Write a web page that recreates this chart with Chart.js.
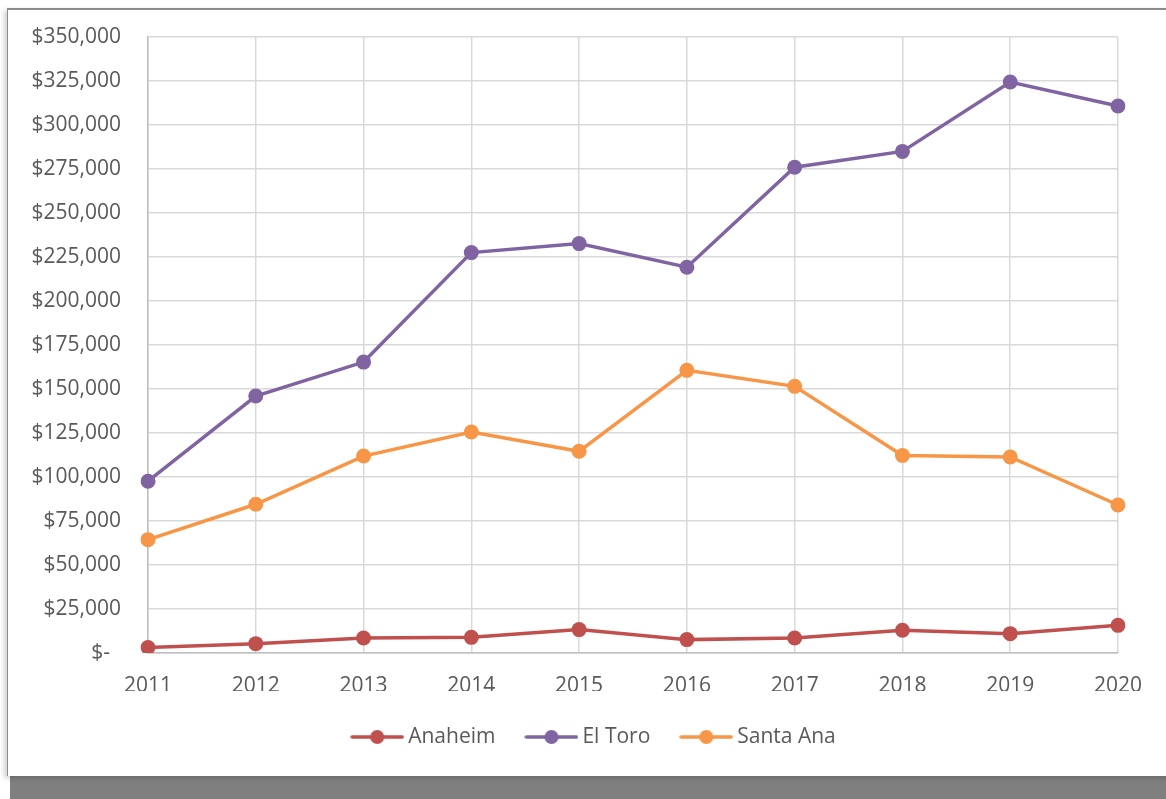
<!DOCTYPE html>
<html>
<head>
<meta charset="utf-8">
<script src="https://cdn.jsdelivr.net/npm/chart.js@4.4.1/dist/chart.umd.min.js"></script>
<style>
  html, body { margin: 0; padding: 0; background: #ffffff; width: 1166px; height: 799px; overflow: hidden; }
  #shadow { position: absolute; left: 10px; top: 14px; width: 1170px; height: 800px; background: #7f7f7f; }
  #box { position: absolute; left: 7px; top: 8px; width: 1170px; height: 766px; background: #ffffff;
         border-top: 2px solid #8c8c8c; border-left: 1.5px solid #8c8c8c; box-shadow: -3px 2px 5px rgba(0,0,0,0.18); }
  #chart { position: absolute; left: 0; top: 0; }
</style>
</head>
<body>
<div id="shadow"></div>
<div id="box"></div>
<canvas id="chart" width="1166" height="799"></canvas>
<script>
const years = ['2011', '2012', '2013', '2014', '2015', '2016', '2017', '2018', '2019', '2020'];
const anaheim = [3100, 5300, 8500, 8900, 13300, 7600, 8500, 12900, 11000, 15700];
const elToro = [97600, 146000, 165300, 227500, 232600, 219200, 276000, 285000, 324400, 310800];
const santaAna = [64400, 84500, 111900, 125600, 114600, 160600, 151500, 112200, 111400, 84100];
const seriesNames = ['Anaheim', 'El Toro', 'Santa Ana'];
const seriesColors = ['#C0504D', '#8064A2', '#F79646'];

function legendIcon(color) {
  const c = document.createElement('canvas');
  c.width = 54; c.height = 16;
  const g = c.getContext('2d');
  g.strokeStyle = color; g.lineWidth = 3.5; g.lineCap = 'round';
  g.beginPath(); g.moveTo(2, 8); g.lineTo(52, 8); g.stroke();
  g.fillStyle = color;
  g.beginPath(); g.arc(27, 8, 7, 0, Math.PI * 2); g.fill();
  return c;
}
const icons = seriesColors.map(legendIcon);

const FONT = { family: '"Open Sans", sans-serif', size: 21 };
const seriesData = [anaheim, elToro, santaAna];

const legendShift = {
  id: 'legendShift',
  afterLayout(chart) {
    if (chart.legend) { chart.legend.left = 74.5; }
  }
};

new Chart(document.getElementById('chart'), {
  type: 'line',
  data: {
    labels: years,
    datasets: seriesNames.map((n, i) => ({
      label: n,
      data: seriesData[i],
      borderColor: seriesColors[i],
      backgroundColor: seriesColors[i],
      borderWidth: 3.5,
      pointRadius: 7.5,
      pointHoverRadius: 7.5,
      pointBorderWidth: 0,
      tension: 0,
      fill: false
    }))
  },
  plugins: [legendShift],
  options: {
    responsive: false,
    animation: false,
    devicePixelRatio: 1,
    layout: { padding: { left: 0, right: 48, top: 37, bottom: 41.5 } },
    plugins: {
      tooltip: { enabled: false },
      legend: {
        position: 'bottom',
        labels: {
          usePointStyle: true,
          pointStyleWidth: 41,
          padding: 35.5,
          color: '#595959',
          font: FONT,
          generateLabels(chart) {
            const items = Chart.defaults.plugins.legend.labels.generateLabels(chart);
            items.forEach((it, i) => { it.pointStyle = icons[i]; });
            return items;
          }
        }
      }
    },
    scales: {
      x: {
        grid: { color: '#d9d9d9', lineWidth: 1.5, drawTicks: false },
        border: { color: '#bfbfbf', width: 1.5 },
        ticks: { color: '#595959', font: FONT, padding: 20, maxRotation: 0 },
        afterFit(s) { s.height = 38; }
      },
      y: {
        min: 0, max: 350000,
        grid: { color: '#d9d9d9', lineWidth: 1.5, drawTicks: false },
        border: { color: '#bfbfbf', width: 1.5 },
        ticks: {
          stepSize: 25000,
          color: '#595959',
          font: FONT,
          padding: 27,
          callback: v => v === 0 ? '$-  ' : '$' + v.toLocaleString('en-US')
        },
        afterFit(s) { s.width = 148; s.paddingTop = 0; s.paddingBottom = 0; }
      }
    }
  }
});
</script>
</body>
</html>
